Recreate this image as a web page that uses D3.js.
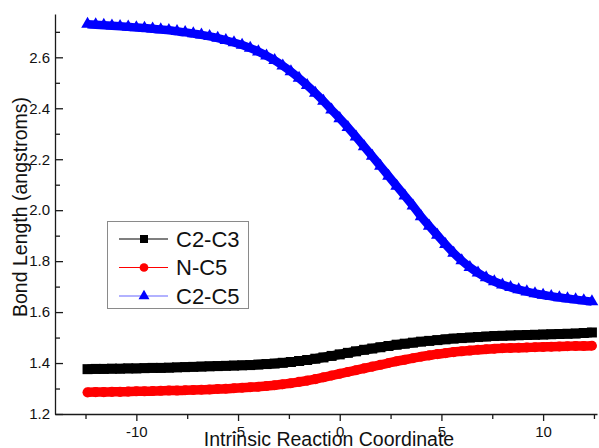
<!DOCTYPE html>
<html>
<head>
<meta charset="utf-8">
<script src="https://cdn.jsdelivr.net/npm/d3@7"></script>
<style>
  body { margin: 0; background: #fff; }
  text { font-family: "Liberation Sans", Arial, sans-serif; fill: #111; }
</style>
</head>
<body>
<script>
// ### Data ###
var irc = [-12.4, -12.0, -11.6, -11.2, -10.8, -10.4, -10.0, -9.6, -9.2, -8.8, -8.4, -8.0, -7.6, -7.2, -6.8, -6.4,
  -6.0, -5.6, -5.2, -4.8, -4.4, -4.0, -3.6, -3.2, -2.8, -2.4, -2.0, -1.6, -1.2, -0.8, -0.4,
  0.0, 0.4, 0.8, 1.2, 1.6, 2.0, 2.4, 2.8, 3.2, 3.6, 4.0, 4.4, 4.8, 5.2, 5.6, 6.0,
  6.4, 6.8, 7.2, 7.6, 8.0, 8.4, 8.8, 9.2, 9.6, 10.0, 10.4, 10.8, 11.2, 11.6, 12.0, 12.4];

var c2c3 = [1.376, 1.377, 1.377, 1.378, 1.378, 1.379, 1.379, 1.380, 1.381, 1.381, 1.382, 1.383, 1.384, 1.385, 1.386, 1.387,
  1.388, 1.389, 1.390, 1.391, 1.392, 1.394, 1.396, 1.398, 1.401, 1.404, 1.408, 1.412, 1.417, 1.422, 1.428,
  1.434, 1.440, 1.446, 1.452, 1.457, 1.462, 1.467, 1.472, 1.476, 1.480, 1.484, 1.487, 1.490, 1.493, 1.496, 1.498,
  1.500, 1.502, 1.504, 1.506, 1.507, 1.508, 1.509, 1.510, 1.511, 1.512, 1.513, 1.514, 1.515, 1.516, 1.518, 1.520];

var nc5 = [1.285, 1.286, 1.286, 1.287, 1.287, 1.288, 1.289, 1.289, 1.290, 1.291, 1.292, 1.292, 1.293, 1.294, 1.295, 1.296,
  1.298, 1.299, 1.301, 1.303, 1.305, 1.307, 1.310, 1.313, 1.317, 1.321, 1.326, 1.331, 1.337, 1.344, 1.351,
  1.358, 1.365, 1.372, 1.379, 1.386, 1.393, 1.400, 1.407, 1.413, 1.419, 1.425, 1.430, 1.435, 1.439, 1.443, 1.446,
  1.449, 1.452, 1.454, 1.456, 1.458, 1.459, 1.460, 1.461, 1.462, 1.463, 1.464, 1.465, 1.466, 1.467, 1.467, 1.468];

var c2c5 = [2.730, 2.728, 2.726, 2.724, 2.722, 2.720, 2.717, 2.715, 2.712, 2.709, 2.706, 2.702, 2.698, 2.693, 2.688, 2.682,
  2.675, 2.667, 2.658, 2.648, 2.636, 2.622, 2.606, 2.588, 2.567, 2.544, 2.518, 2.490, 2.460, 2.428, 2.394,
  2.360, 2.325, 2.288, 2.250, 2.212, 2.173, 2.134, 2.095, 2.056, 2.017, 1.975, 1.938, 1.902, 1.866, 1.832, 1.802,
  1.776, 1.754, 1.735, 1.720, 1.707, 1.697, 1.688, 1.680, 1.673, 1.667, 1.662, 1.657, 1.653, 1.649, 1.645, 1.641];

var seriesNames = ["C2-C3", "N-C5", "C2-C5"];
var xMajor = [-10, -5, 0, 5, 10];
var xMinor = [-12.5, -7.5, -2.5, 2.5, 7.5, 12.5];
var yMajor = [1.2, 1.4, 1.6, 1.8, 2.0, 2.2, 2.4, 2.6];
var yMinor = [1.3, 1.5, 1.7, 1.9, 2.1, 2.3, 2.5, 2.7];

// ### Layout ###
var W = 599, H = 448;
var margin = {top: 14, right: 2, bottom: 34, left: 55};
var width = W - margin.left - margin.right;
var height = H - margin.top - margin.bottom;

var series = [
  {name: seriesNames[0], values: c2c3, color: "#000000", symbol: d3.symbolSquare, size: 100, band: 9.5, legendSize: 64},
  {name: seriesNames[1], values: nc5, color: "#ff0000", symbol: d3.symbolCircle, size: 80, band: 9.5, legendSize: 60},
  {name: seriesNames[2], values: c2c5, color: "#0000ff", symbol: d3.symbolTriangle, size: 70, band: 8.5, legendSize: 52}
];

var svg = d3.select("body").append("svg")
    .attr("width", W)
    .attr("height", H);

var g = svg.append("g")
    .attr("transform", "translate(" + margin.left + "," + margin.top + ")");

var x = d3.scaleLinear().domain([-14, 12.65]).range([0, width]);
var y = d3.scaleLinear().domain([1.2, 2.77]).range([height, 0]);

// ### Series: thick line under dense markers ###
var line = d3.line()
    .x(function(d, i) { return x(irc[i]); })
    .y(function(d) { return y(d); })
    .curve(d3.curveMonotoneX);

series.forEach(function(s) {
  g.append("path")
      .datum(s.values)
      .attr("fill", "none")
      .attr("stroke", s.color)
      .attr("stroke-width", s.band)
      .attr("stroke-linejoin", "round")
      .attr("d", line);

  g.append("g").selectAll("path")
      .data(s.values)
    .enter().append("path")
      .attr("transform", function(d, i) { return "translate(" + x(irc[i]) + "," + y(d) + ")"; })
      .attr("d", d3.symbol().type(s.symbol).size(s.size))
      .attr("fill", s.color);
});

// ### Axes ###
var axisColor = "#1a1a1a";

var xAxis = g.append("g")
    .attr("transform", "translate(0," + height + ")")
    .call(d3.axisBottom(x).tickValues(xMajor).tickSize(7).tickSizeOuter(0).tickPadding(5)
      .tickFormat(function(d) { return String(d); }));
xAxis.selectAll("text").style("font-size", "15px");

var xAxisMinor = g.append("g")
    .attr("transform", "translate(0," + height + ")")
    .call(d3.axisBottom(x).tickValues(xMinor).tickSize(5).tickFormat(""));
xAxisMinor.select(".domain").remove();

var yAxis = g.append("g")
    .call(d3.axisLeft(y).tickValues(yMajor).tickSize(-8).tickSizeOuter(0).tickPadding(5).tickFormat(d3.format(".1f")));
yAxis.selectAll("text").style("font-size", "15px");

var yAxisMinor = g.append("g")
    .call(d3.axisLeft(y).tickValues(yMinor).tickSize(-5).tickFormat(""));
yAxisMinor.select(".domain").remove();

g.selectAll(".domain, .tick line")
    .attr("stroke", axisColor)
    .attr("stroke-width", 1.3);
g.selectAll(".tick text").attr("fill", "#111");

// ### Axis titles ###
svg.append("text")
    .attr("x", 329)
    .attr("y", 446)
    .attr("text-anchor", "middle")
    .style("font-size", "19.5px")
    .text("Intrinsic Reaction Coordinate");

svg.append("text")
    .attr("transform", "translate(27,207) rotate(-90)")
    .attr("text-anchor", "middle")
    .style("font-size", "19.5px")
    .text("Bond Length (angstroms)");

// ### Legend ###
var legend = svg.append("g").attr("transform", "translate(107,221)");

legend.append("rect")
    .attr("x", 0.5)
    .attr("y", 0.5)
    .attr("width", 141)
    .attr("height", 87)
    .attr("fill", "#fff")
    .attr("stroke", "#8a8a8a")
    .attr("stroke-width", 1);

var rows = legend.selectAll(".row")
    .data(series)
  .enter().append("g")
    .attr("class", "row")
    .attr("transform", function(d, i) { return "translate(0," + (18 + i * 28.5) + ")"; });

rows.append("line")
    .attr("x1", 12)
    .attr("x2", 61)
    .attr("stroke", function(d) { return d.color; })
    .attr("stroke-opacity", function(d, i) { return i === 2 ? 0.6 : 1; })
    .attr("stroke-width", 1.2);

rows.append("path")
    .attr("transform", "translate(37,0)")
    .attr("d", function(d) { return d3.symbol().type(d.symbol).size(d.legendSize)(); })
    .attr("fill", function(d) { return d.color; });

rows.append("text")
    .attr("x", 69)
    .attr("dy", "0.36em")
    .style("font-size", "22px")
    .text(function(d) { return d.name; });
</script>
</body>
</html>
